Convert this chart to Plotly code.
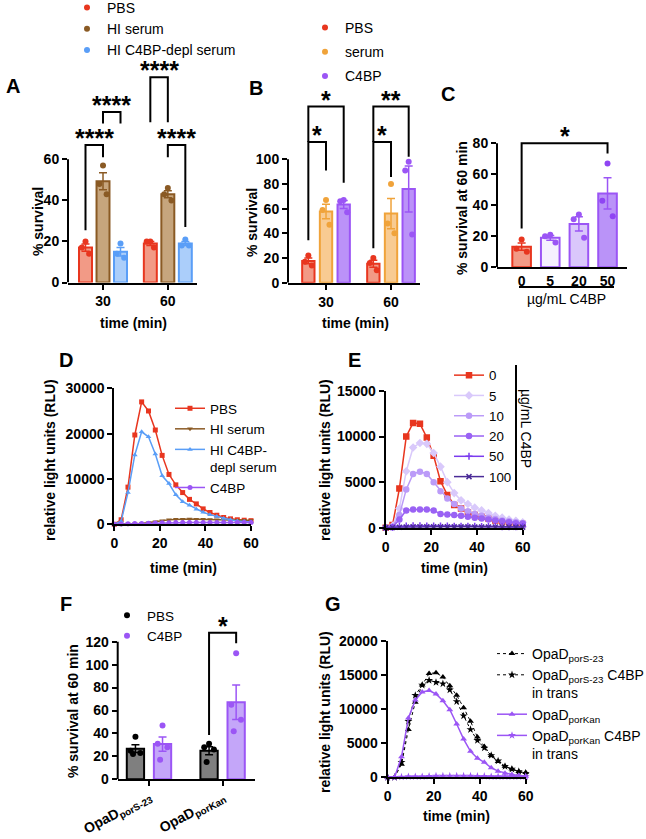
import numpy as np
import plotly.graph_objects as go

W, H = 646, 839
FONT = "Liberation Sans, Arial, Helvetica, sans-serif"

# ======================= DATA =======================
# Panel A : % survival (two time points, three conditions, 3 replicates)
a_groups = ["30", "60"]
a_names = ["PBS", "HI serum", "HI C4BP-depl serum"]
a_pbs = [[20, 17, 14], [20, 20, 17]]
a_hiserum = [[57, 48, 43], [46, 43, 40]]
a_depl = [[19, 14, 12], [21, 18, 18]]

# Panel B
b_groups = ["30", "60"]
b_names = ["PBS", "serum", "C4BP"]
b_pbs = [[22, 17, 14], [20, 16, 10]]
b_serum = [[67, 59, 47], [80, 48, 40]]
b_c4bp = [[67, 66, 57], [98, 91, 39]]

# Panel C : µg/mL C4BP
c_doses = ["0", "5", "20", "50"]
c_values = [[18, 12, 10], [21, 20, 16], [34, 31, 19], [67, 43, 33]]

# Panels D, E, G : time course (min)
time_min = [0, 3, 6, 9, 12, 15, 18, 21, 24, 27, 30, 33, 36, 39, 42, 45, 48, 51, 54, 57, 60]

d_names = ["PBS", "HI serum", "HI C4BP-<br>depl serum", "C4BP"]
d_pbs = [0, 1000, 8200, 19700, 27000, 25000, 20800, 15200, 11000, 8700, 7000, 5500, 4500, 3400, 2600, 2000, 1500, 1200, 1000, 900, 800]
d_hiserum = [0, 0, 50, 100, 200, 350, 550, 800, 1000, 1100, 1100, 1150, 1100, 1100, 1050, 1000, 1000, 950, 900, 900, 850]
d_depl = [0, 700, 7000, 15300, 20400, 19300, 15500, 10700, 9000, 6500, 5000, 4200, 3300, 2650, 2130, 1700, 1300, 1000, 750, 600, 500]
d_c4bp = [0, 50, 100, 150, 200, 250, 300, 320, 350, 370, 390, 400, 400, 400, 400, 400, 400, 400, 400, 400, 380]

e_doses = ["0", "5", "10", "20", "50", "100"]
e_0 = [0, 300, 4300, 10000, 11500, 11400, 9900, 7900, 5100, 3600, 2500, 2100, 1700, 1400, 1200, 1000, 800, 700, 600, 500, 400]
e_5 = [0, 200, 2100, 6200, 8800, 9300, 9200, 8200, 6700, 5000, 3800, 3000, 2600, 2200, 1900, 1600, 1300, 1100, 900, 750, 600]
e_10 = [0, 100, 1400, 4200, 5900, 6150, 5900, 5000, 4000, 3200, 2600, 2100, 1800, 1500, 1300, 1100, 950, 800, 700, 600, 500]
e_20 = [0, 50, 900, 1900, 2000, 2000, 2000, 1900, 1500, 1450, 1400, 1300, 1200, 1100, 1000, 900, 800, 700, 600, 500, 450]
e_50 = [0, 50, 150, 200, 220, 220, 200, 200, 200, 180, 170, 160, 150, 150, 140, 130, 120, 110, 100, 100, 100]
e_100 = [0, 20, 50, 80, 100, 100, 100, 100, 100, 100, 90, 90, 90, 80, 80, 80, 70, 70, 70, 60, 60]

# Panel F
f_strains = ["OpaD<sub>porS-23</sub>", "OpaD<sub>porKan</sub>"]
f_names = ["PBS", "C4BP"]
f_pbs = [[37, 25, 23, 22], [31, 28, 26, 15]]
f_c4bp = [[47, 31, 28, 17], [110, 65, 52, 42]]

# Panel G
g_names = ["OpaD<sub>porS-23</sub>", "OpaD<sub>porS-23</sub> C4BP<br>in trans",
           "OpaD<sub>porKan</sub>", "OpaD<sub>porKan</sub> C4BP<br>in trans"]
g_pors = [0, 0, 1900, 7000, 11000, 13500, 15200, 15300, 14700, 13400, 12000, 10200, 8200, 5900, 4500, 3200, 2300, 1600, 1200, 850, 700]
g_pors_trans = [0, 0, 2200, 8200, 12000, 13500, 14200, 13900, 13700, 12800, 11100, 9000, 7000, 5400, 4300, 3200, 2400, 1600, 1200, 850, 600]
g_porkan = [0, 0, 3000, 8700, 11300, 12500, 12700, 12200, 11200, 9900, 7800, 5600, 3800, 2800, 2200, 1400, 900, 600, 400, 250, 150]
g_porkan_trans = [0, 0, 50, 100, 100, 100, 150, 200, 200, 200, 200, 200, 200, 150, 150, 100, 100, 100, 100, 100, 100]

# ======================= STYLE =======================
RED_E, RED_F = "#e8361f", "#f29a86"
BROWN_E, BROWN_F = "#8a5a24", "#c6a57d"
BLUE_E, BLUE_F = "#5a9ef7", "#abcefa"
ORANGE_E, ORANGE_F = "#f0a33a", "#f8cb92"
PURP_E, PURP_F = "#9b55f5", "#bb92f8"
JIT = [0.0, -0.28, 0.28, -0.14, 0.14]


def px2x(px):
    return px / W


def px2y(py):
    return 1 - py / H


fig = go.Figure()
shapes = []
annotations = []


def sem(v):
    v = np.asarray(v, dtype=float)
    return float(v.std(ddof=1) / np.sqrt(len(v)))


def bar_series(xa, ya, xpos, reps, fill, edge, width, name, legend, showleg, ptcolor=None):
    ptcolor = ptcolor or edge
    means = [float(np.mean(r)) for r in reps]
    errs = [sem(r) for r in reps]
    fig.add_trace(go.Bar(x=xpos, y=means, width=width, xaxis=xa, yaxis=ya,
                         marker=dict(color=fill, line=dict(color=edge, width=2)),
                         error_y=dict(type="data", array=errs, color=edge, thickness=1.5, width=4),
                         showlegend=False, hoverinfo="skip"))
    px_, py_ = [], []
    for xp, r in zip(xpos, reps):
        for i, v in enumerate(r):
            px_.append(xp + JIT[i % len(JIT)] * width)
            py_.append(v)
    fig.add_trace(go.Scatter(x=px_, y=py_, mode="markers", xaxis=xa, yaxis=ya,
                             marker=dict(color=ptcolor, size=6), name=name, legend=legend,
                             legendgroup=f"{legend}-{name}",
                             showlegend=showleg, cliponaxis=False))


def bracket(xa, ya, x0, x1, ytop, yl0, yl1, label):
    shapes.append(dict(type="path", xref=xa, yref=ya,
                       path=f"M {x0},{yl0} L {x0},{ytop} L {x1},{ytop} L {x1},{yl1}",
                       line=dict(color="black", width=2)))
    annotations.append(dict(text=f"<b>{label}</b>", x=(x0 + x1) / 2, y=ytop, xref=xa, yref=ya,
                            showarrow=False, yanchor="middle", yshift=7,
                            font=dict(family=FONT, size=25, color="black")))


def yline(xa, ya, top):
    shapes.append(dict(type="line", xref=f"{xa} domain", yref=ya, x0=0, x1=0, y0=0, y1=top,
                       line=dict(color="black", width=2)))


def text(t, x, y, size=14, bold=True, angle=0, xanchor="center"):
    annotations.append(dict(text=f"<b>{t}</b>" if bold else t, x=px2x(x), y=px2y(y),
                            xref="paper", yref="paper", showarrow=False, textangle=angle,
                            xanchor=xanchor, yanchor="middle",
                            font=dict(family=FONT, size=size, color="black")))


# ---------------- Panel A ----------------
OFF3 = [-0.27, 0.0, 0.27]
a_pos = np.arange(len(a_groups))
for s, (reps, fill, edge, name) in enumerate(zip([a_pbs, a_hiserum, a_depl],
                                                  [RED_F, BROWN_F, BLUE_F],
                                                  [RED_E, BROWN_E, BLUE_E], a_names)):
    bar_series("x", "y", list(a_pos + OFF3[s]), reps, fill, edge, 0.2, name, "legend", True)
yline("x", "y", 60)
bracket("x", "y", -0.27, 0.0, 67, 25.5, 61, "****")
bracket("x", "y", 0.0, 0.27, 83, 77.5, 77.5, "****")
bracket("x", "y", 1.0, 1.27, 67, 61, 27, "****")
bracket("x", "y", 0.73, 1.0, 100, 78, 78, "****")

# ---------------- Panel B ----------------
b_pos = np.arange(len(b_groups))
OFFB = [-0.272, 0.0, 0.272]
for s, (reps, fill, edge, name) in enumerate(zip([b_pbs, b_serum, b_c4bp],
                                                  [RED_F, ORANGE_F, PURP_F],
                                                  [RED_E, ORANGE_E, PURP_E], b_names)):
    bar_series("x2", "y2", list(b_pos + OFFB[s]), reps, fill, edge, 0.19, name, "legend2", True)
yline("x2", "y2", 100)
bracket("x2", "y2", -0.272, 0.0, 114, 34.5, 91, "*")
bracket("x2", "y2", -0.272, 0.272, 142.7, 114, 81, "*")
bracket("x2", "y2", 0.728, 1.0, 114, 28, 85.7, "*")
bracket("x2", "y2", 0.728, 1.272, 142.7, 114, 102, "**")

# ---------------- Panel C ----------------
c_fills = [RED_F, "#f5f0fe", "#dac7fb", "#ba93f8"]
c_edges = [RED_E, PURP_E, PURP_E, PURP_E]
c_pts = [RED_E, PURP_E, PURP_E, "#8f45f3"]
for i, reps in enumerate(c_values):
    bar_series("x3", "y3", [i], [reps], c_fills[i], c_edges[i], 0.65, c_doses[i], "legend", False, c_pts[i])
yline("x3", "y3", 80)
bracket("x3", "y3", 0, 3, 80, 25, 73.5, "*")
shapes.append(dict(type="line", xref="paper", yref="paper", x0=px2x(519), x1=px2x(614),
                   y0=px2y(287), y1=px2y(287), line=dict(color="black", width=2)))
text("µg/mL C4BP", 566, 299, bold=False)

# ---------------- Panel D ----------------
for vals, col, sym, name in zip([d_pbs, d_hiserum, d_depl, d_c4bp],
                                [RED_E, BROWN_E, BLUE_E, PURP_E],
                                ["square", "triangle-down", "triangle-up", "circle"], d_names):
    fig.add_trace(go.Scatter(x=time_min, y=vals, mode="lines+markers", xaxis="x4", yaxis="y4",
                             line=dict(color=col, width=1.5), marker=dict(color=col, size=5, symbol=sym),
                             name=name, legend="legend3", cliponaxis=False))

# ---------------- Panel E ----------------
e_cols = [RED_E, "#d9c9fb", "#bb9bf8", "#9a62f4", "#7b3bef", "#4a2b97"]
e_syms = ["square", "diamond", "circle", "circle", "cross-thin", "x-thin"]
for vals, col, sym, name in zip([e_0, e_5, e_10, e_20, e_50, e_100], e_cols, e_syms, e_doses):
    fig.add_trace(go.Scatter(x=time_min, y=vals, mode="lines+markers", xaxis="x5", yaxis="y5",
                             line=dict(color=col, width=1.5),
                             marker=dict(color=col, size=5, symbol=sym, line=dict(color=col, width=1.5)),
                             name=name, legend="legend4", cliponaxis=False))
shapes.append(dict(type="line", xref="paper", yref="paper", x0=px2x(516), x1=px2x(516),
                   y0=px2y(365), y1=px2y(490), line=dict(color="black", width=2)))
text("µg/mL C4BP", 526, 428, bold=False, angle=90)

# ---------------- Panel F ----------------
f_pos = np.arange(len(f_strains))
OFFF = [-0.184, 0.184]
for s, (reps, fill, edge, pc, name) in enumerate(zip([f_pbs, f_c4bp], ["#7f7f7f", "#c4a6f9"],
                                                      ["black", PURP_E], ["black", PURP_E], f_names)):
    bar_series("x6", "y6", list(f_pos + OFFF[s]), reps, fill, edge, 0.235, name, "legend5", True, pc)
yline("x6", "y6", 120)
bracket("x6", "y6", 0.816, 1.184, 127.8, 38.6, 118.6, "*")

# ---------------- Panel G ----------------
g_cols = ["black", "black", PURP_E, PURP_E]
g_syms = ["triangle-up", "star", "triangle-up", "star"]
g_dash = ["dot", "dot", "solid", "solid"]
g_w = [1, 1, 1.5, 1.5]
for vals, col, sym, dash, lw, name in zip([g_pors, g_pors_trans, g_porkan, g_porkan_trans],
                                          g_cols, g_syms, g_dash, g_w, g_names):
    fig.add_trace(go.Scatter(x=time_min, y=vals, mode="lines+markers", xaxis="x7", yaxis="y7",
                             line=dict(color=col, width=lw, dash=dash),
                             marker=dict(color=col, size=6, symbol=sym),
                             name=name, legend="legend6", cliponaxis=False))

# ---------------- titles & labels ----------------
for lab, x, y in [("A", 13, 86), ("B", 256, 88), ("C", 448, 94), ("D", 66, 360),
                  ("E", 354, 360), ("F", 66, 604), ("G", 333, 604)]:
    text(lab, x, y, size=20)

text("% survival", 38, 222, angle=-90)
text("time (min)", 133, 323)
text("% survival", 252, 223, angle=-90)
text("time (min)", 355, 323)
text("% survival at 60 min", 462, 208, angle=-90)
text("relative light units (RLU)", 50, 460, angle=-90)
text("time (min)", 183, 568)
text("relative light units (RLU)", 325, 460, angle=-90)
text("time (min)", 454, 568)
text("% survival at 60 min", 73, 711, angle=-90)
text("relative light units (RLU)", 325, 712, angle=-90)
text("time (min)", 457, 816)

# ---------------- axes ----------------
TF = dict(family=FONT, size=14, color="black", weight="bold")
base = dict(showgrid=False, zeroline=False, showline=True, linecolor="black", linewidth=2,
            ticks="outside", ticklen=5, tickwidth=1.5, tickcolor="black", tickfont=TF,
            fixedrange=True)


def bar_y(zero_px, unit_px, top_px, tickvals):
    return dict(base, showline=False, range=[0, (zero_px - top_px) / unit_px],
                domain=[px2y(zero_px), px2y(top_px)], tickvals=tickvals)


layout_axes = dict(
    xaxis=dict(base, domain=[px2x(68), px2x(197)], range=[-0.54, 1.45], anchor="y",
               tickvals=list(a_pos), ticktext=a_groups),
    yaxis=dict(bar_y(282.5, 2.053, 45, [0, 20, 40, 60]), anchor="x"),
    xaxis2=dict(base, domain=[px2x(288), px2x(420)], range=[-0.585, 1.446], anchor="y2",
                tickvals=list(b_pos), ticktext=b_groups),
    yaxis2=dict(bar_y(282.7, 1.234, 45, [0, 20, 40, 60, 80, 100]), anchor="x2"),
    xaxis3=dict(base, domain=[px2x(497), px2x(627)], range=[-0.86, 3.68], anchor="y3",
                tickvals=list(range(len(c_doses))), ticktext=c_doses, ticks=""),
    yaxis3=dict(bar_y(267.3, 1.55, 110, [0, 20, 40, 60, 80]), anchor="x3"),
    xaxis4=dict(base, domain=[px2x(114.3), px2x(251)], range=[0, 60], anchor="y4",
                tickvals=[0, 20, 40, 60]),
    yaxis4=dict(base, domain=[px2y(524.3), px2y(388.3)], range=[0, 30000], anchor="x4",
                tickvals=[0, 10000, 20000, 30000], tickformat="d"),
    xaxis5=dict(base, domain=[px2x(385.7), px2x(522.7)], range=[0, 60], anchor="y5",
                tickvals=[0, 20, 40, 60]),
    yaxis5=dict(base, domain=[px2y(527.7), px2y(391)], range=[0, 15000], anchor="x5",
                tickvals=[0, 5000, 10000, 15000], tickformat="d"),
    xaxis6=dict(base, domain=[px2x(117.7), px2x(255)], range=[-0.425, 1.44], anchor="y6",
                tickvals=list(f_pos), ticktext=f_strains, tickangle=-28,
                ticklabelstandoff=-3),
    yaxis6=dict(bar_y(779.3, 1.1467, 595, [0, 20, 40, 60, 80, 100, 120]), anchor="x6"),
    xaxis7=dict(base, domain=[px2x(387.7), px2x(525.7)], range=[0, 60], anchor="y7",
                tickvals=[0, 20, 40, 60]),
    yaxis7=dict(base, domain=[px2y(777.3), px2y(640.7)], range=[0, 20000], anchor="x7",
                tickvals=[0, 5000, 10000, 15000, 20000], tickformat="d"),
)


def leg(x, y, size=13.5, gap=0, order="normal"):
    return dict(x=px2x(x), y=px2y(y), xanchor="left", yanchor="top", bgcolor="rgba(0,0,0,0)",
                font=dict(family=FONT, size=size, color="black"), tracegroupgap=gap,
                traceorder=order, valign="top", itemclick=False, itemdoubleclick=False)


fig.update_layout(
    width=W, height=H, margin=dict(l=0, r=0, t=0, b=0, autoexpand=False),
    paper_bgcolor="white", plot_bgcolor="white", barmode="overlay",
    font=dict(family=FONT, color="black"),
    shapes=shapes, annotations=annotations,
    legend=leg(67, -8, 14),
    legend2=leg(305, 12, 14, 3, "grouped"),
    legend3=leg(170, 393),
    legend4=leg(449, 360, 13.3),
    legend5=leg(107, 600),
    legend6=leg(492, 638, 14),
    **layout_axes,
)

fig.write_html("out.html", config={"displayModeBar": False},
               post_script="document.body.style.margin='0';document.body.style.overflow='hidden';")
